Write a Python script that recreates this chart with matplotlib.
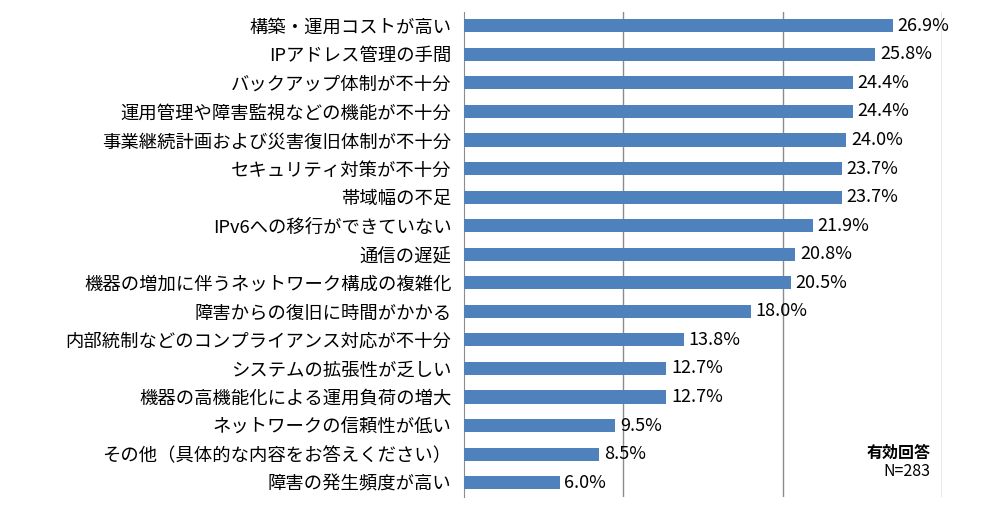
import matplotlib
matplotlib.use("Agg")
import matplotlib.pyplot as plt

plt.rcParams["font.family"] = ["Noto Sans CJK JP", "DejaVu Sans"]

categories = [
    "構築・運用コストが高い",
    "IPアドレス管理の手間",
    "バックアップ体制が不十分",
    "運用管理や障害監視などの機能が不十分",
    "事業継続計画および災害復旧体制が不十分",
    "セキュリティ対策が不十分",
    "帯域幅の不足",
    "IPv6への移行ができていない",
    "通信の遅延",
    "機器の増加に伴うネットワーク構成の複雑化",
    "障害からの復旧に時間がかかる",
    "内部統制などのコンプライアンス対応が不十分",
    "システムの拡張性が乏しい",
    "機器の高機能化による運用負荷の増大",
    "ネットワークの信頼性が低い",
    "その他（具体的な内容をお答えください）",
    "障害の発生頻度が高い",
]
values = [26.9, 25.8, 24.4, 24.4, 24.0, 23.7, 23.7, 21.9, 20.8, 20.5,
          18.0, 13.8, 12.7, 12.7, 9.5, 8.5, 6.0]

fig = plt.figure(figsize=(9.95, 5.16), dpi=100)
ax = fig.add_axes([464 / 995, (516 - 497) / 516, (942 - 464) / 995, 485.5 / 516])

y = list(range(len(categories)))
ax.barh(y, values, height=0.46, color="#4F81BD", zorder=3)
ax.set_ylim(len(categories) - 0.5, -0.5)
ax.set_xlim(0, 30)

ax.set_xticks([10, 20, 30])
ax.set_xticklabels([])
ax.tick_params(axis="x", length=0)
ax.grid(axis="x", color="#8C8C8C", linewidth=1, zorder=0)

ax.set_yticks(y)
ax.set_yticklabels(categories, fontsize=13.2)
ax.tick_params(axis="y", length=0, pad=9)

for s in ["top", "right", "bottom"]:
    ax.spines[s].set_visible(False)
ax.spines["left"].set_color("#8C8C8C")

for yi, v in zip(y, values):
    ax.text(v + 0.3, yi, f"{v:.1f}%", va="center", ha="left", fontsize=13, zorder=4)

ax.text(29.3, 14.95, "有効回答", ha="right", va="center", fontsize=11.5, fontweight="bold")
ax.text(29.3, 15.6, "N=283", ha="right", va="center", fontsize=11.5)

fig.savefig("out.png", dpi=100, facecolor="white")
